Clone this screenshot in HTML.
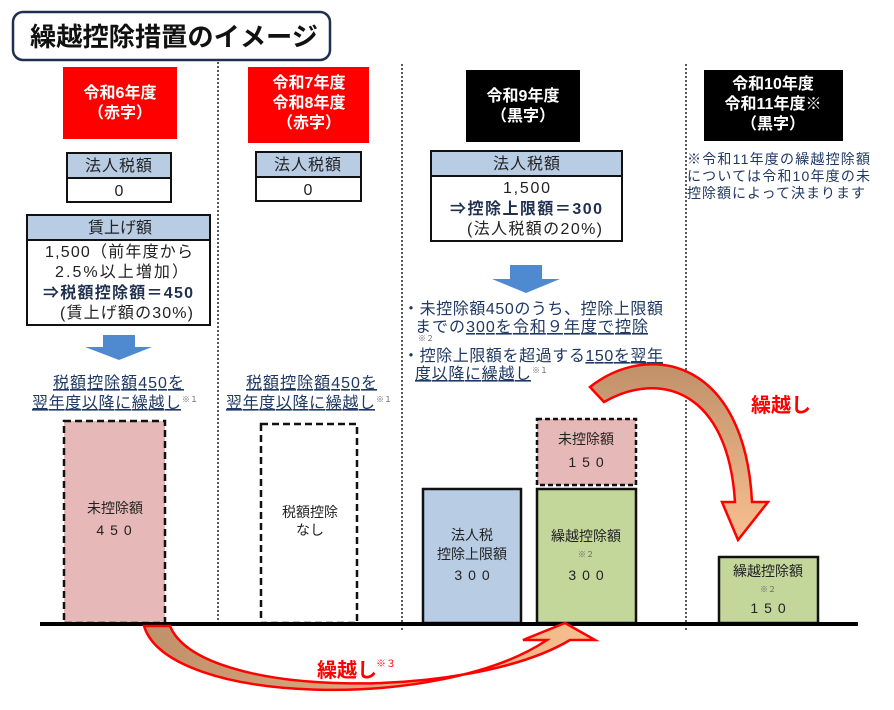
<!DOCTYPE html>
<html><head><meta charset="utf-8"><style>
html,body{margin:0;padding:0;background:#fff;}
svg{display:block;font-family:"Liberation Sans","Noto Sans CJK JP",sans-serif;}
</style></head><body>
<svg width="894" height="710" viewBox="0 0 894 710" xmlns="http://www.w3.org/2000/svg">
<defs>
<linearGradient id="g1" x1="0" y1="0" x2="1" y2="0"><stop offset="0" stop-color="#c0906a"/><stop offset="1" stop-color="#f8c090"/></linearGradient>
<linearGradient id="g2" x1="0" y1="0" x2="0" y2="1"><stop offset="0" stop-color="#c0906a"/><stop offset="1" stop-color="#f8c090"/></linearGradient>
</defs>
<rect x="13" y="12" width="317" height="48" rx="10" fill="#fff" stroke="#1f3050" stroke-width="2.5"/>
<text x="30" y="46" font-size="26" font-weight="bold" fill="#111" textLength="288" lengthAdjust="spacingAndGlyphs">繰越控除措置のイメージ</text>
<g stroke="#222" stroke-width="1.5" stroke-dasharray="2,2">
<line x1="218" y1="62" x2="218" y2="626"/>
<line x1="402" y1="64" x2="402" y2="632"/>
<line x1="686" y1="64" x2="686" y2="632"/>
</g>
<rect x="63" y="67" width="114" height="72" fill="#ff0000"/>
<text fill="#fff" font-size="16" font-weight="bold" text-anchor="middle"><tspan x="120" y="98">令和6年度</tspan><tspan x="120" y="118">（赤字）</tspan></text>
<rect x="248" y="67" width="121" height="76" fill="#ff0000"/>
<text fill="#fff" font-size="16" font-weight="bold" text-anchor="middle"><tspan x="309" y="88">令和7年度</tspan><tspan x="309" y="108">令和8年度</tspan><tspan x="309" y="128">（赤字）</tspan></text>
<rect x="466" y="70" width="114" height="72" fill="#000"/>
<text fill="#fff" font-size="16" font-weight="bold" text-anchor="middle"><tspan x="523" y="101">令和9年度</tspan><tspan x="523" y="121">（黒字）</tspan></text>
<rect x="704" y="70" width="139" height="71" fill="#000"/>
<text fill="#fff" font-size="16" font-weight="bold" text-anchor="middle"><tspan x="773" y="89">令和10年度</tspan><tspan x="773" y="109">令和11年度※</tspan><tspan x="773" y="129">（黒字）</tspan></text>
<g stroke="#111" stroke-width="2">
<rect x="67" y="153" width="104" height="25" fill="#b8cce4"/><rect x="67" y="178" width="104" height="24" fill="#fff"/>
<rect x="256" y="152" width="105" height="25" fill="#b8cce4"/><rect x="256" y="177" width="105" height="24" fill="#fff"/>
<rect x="27" y="215" width="183" height="25" fill="#b8cce4"/><rect x="27" y="240" width="183" height="85" fill="#fff"/>
<rect x="431" y="151" width="191" height="25" fill="#b8cce4"/><rect x="431" y="176" width="191" height="65" fill="#fff"/>
</g>
<g font-size="16" fill="#222" lengthAdjust="spacingAndGlyphs">
<text x="85" y="171" textLength="67">法人税額</text><text x="119" y="196" text-anchor="middle">0</text>
<text x="274" y="170" textLength="67">法人税額</text><text x="308" y="195" text-anchor="middle">0</text>
<text x="88" y="233" textLength="64">賃上げ額</text>
<text x="45" y="257" textLength="148">1,500（前年度から</text>
<text x="55" y="277" textLength="133">2.5%以上増加）</text>
<text x="43" y="298" font-weight="bold" fill="#1f3050" textLength="150">⇒税額控除額＝450</text>
<text x="60" y="318" textLength="133">(賃上げ額の30%)</text>
<text x="493" y="169" textLength="67">法人税額</text>
<text x="503" y="193" textLength="47">1,500</text>
<text x="450" y="214" font-weight="bold" fill="#1f3050" textLength="152">⇒控除上限額＝300</text>
<text x="467" y="234" textLength="135">(法人税額の20%)</text>
</g>
<polygon points="103,335 135,335 135,347 152,347 119,360 85,347 103,347" fill="#4f8ad0"/>
<polygon points="510,265 542,265 542,279 560,279 526,293 492,279 510,279" fill="#4f8ad0"/>
<g font-size="16" fill="#1f3864" lengthAdjust="spacingAndGlyphs">
<text x="53" y="388" text-decoration="underline" textLength="131">税額控除額450を</text>
<text x="32" y="408" text-decoration="underline" textLength="149">翌年度以降に繰越し</text><text x="182" y="402" font-size="8" fill="#666">※１</text>
<text x="246" y="388" text-decoration="underline" textLength="131">税額控除額450を</text>
<text x="226" y="408" text-decoration="underline" textLength="149">翌年度以降に繰越し</text><text x="376" y="402" font-size="8" fill="#666">※１</text>
<text x="403" y="314" textLength="260">・未控除額450のうち、控除上限額</text>
<text x="415" y="332" textLength="233">までの<tspan text-decoration="underline">300を令和９年度で控除</tspan></text>
<text x="418" y="341" font-size="8" fill="#666">※２</text>
<text x="403" y="361" textLength="260">・控除上限額を超過する<tspan text-decoration="underline">150を翌年</tspan></text>
<text x="415" y="379" text-decoration="underline" textLength="116">度以降に繰越し</text><text x="532" y="373" font-size="8" fill="#666">※１</text>
<text x="687" y="164" font-size="14" textLength="183">※令和11年度の繰越控除額</text>
<text x="687" y="181" font-size="14" textLength="183">については令和10年度の未</text>
<text x="687" y="198" font-size="14" textLength="178">控除額によって決まります</text>
</g>
<rect x="64" y="421" width="101" height="202" fill="#e6b8b7" stroke="#111" stroke-width="2.5" stroke-dasharray="7,4"/>
<rect x="261" y="424" width="96" height="199" fill="#fff" stroke="#111" stroke-width="2.5" stroke-dasharray="7,4"/>
<rect x="423" y="489" width="98" height="134" fill="#b8cce4" stroke="#111" stroke-width="2.5"/>
<rect x="537" y="489" width="99" height="134" fill="#c4d79b" stroke="#111" stroke-width="2.5"/>
<rect x="537" y="419" width="99" height="66" fill="#e6b8b7" stroke="#111" stroke-width="2.5" stroke-dasharray="5,3"/>
<rect x="719" y="557" width="99" height="66" fill="#c4d79b" stroke="#111" stroke-width="2.5"/>
<line x1="40" y1="624" x2="858" y2="624" stroke="#000" stroke-width="4"/>
<g font-size="14" fill="#222" text-anchor="middle">
<text x="115" y="513">未控除額</text><text x="117" y="535" letter-spacing="6">450</text>
<text x="310" y="517">税額控除</text><text x="310" y="535">なし</text>
<text x="472" y="540">法人税</text><text x="472" y="559">控除上限額</text><text x="475" y="580" letter-spacing="6">300</text>
<text x="586" y="444">未控除額</text><text x="589" y="467" letter-spacing="6">150</text>
<text x="586" y="541">繰越控除額</text><text x="586" y="557" font-size="8" fill="#666">※２</text><text x="589" y="580" letter-spacing="6">300</text>
<text x="768" y="576">繰越控除額</text><text x="768" y="592" font-size="8" fill="#666">※２</text><text x="771" y="613" letter-spacing="6">150</text>
</g>
<path d="M144,626 C168,705 440,712 547,640 L523,640 L565,623 L595,640 L570,640 C470,700 200,700 170,626 Z" fill="url(#g1)" stroke="#ff0000" stroke-width="2.5"/>
<path d="M590,387 C650,340 745,360 752,502 L768,502 L738,540 L722,502 L735,502 C728,390 660,370 604,402 Z" fill="url(#g2)" stroke="#ff0000" stroke-width="2.5"/>
<text x="317" y="677" font-size="20" font-weight="bold" fill="#ff0000">繰越し</text><text x="376" y="667" font-size="10" fill="#ff0000">※３</text>
<text x="751" y="412" font-size="20" font-weight="bold" fill="#ff0000">繰越し</text>
</svg>
</body></html>
